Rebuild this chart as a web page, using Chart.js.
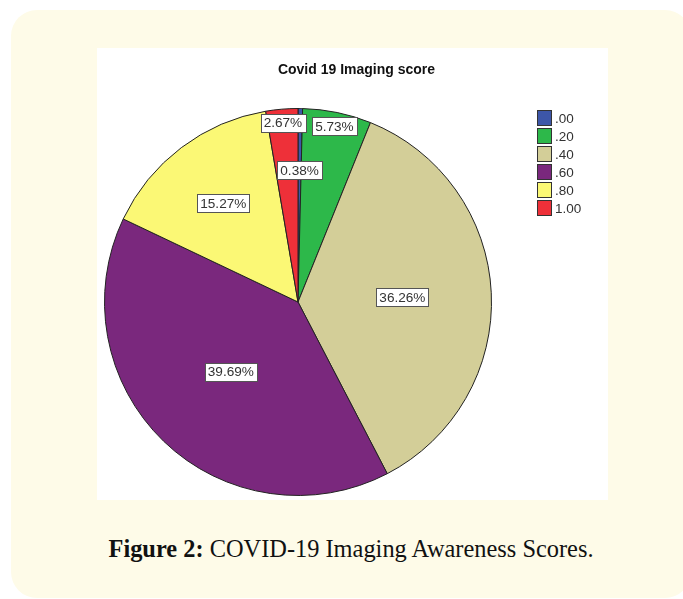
<!DOCTYPE html>
<html>
<head>
<meta charset="utf-8">
<script src="https://cdn.jsdelivr.net/npm/chart.js@4.4.0/dist/chart.umd.min.js"></script>
<style>
  html, body { margin: 0; padding: 0; background: #fff; }
  body { width: 683px; height: 599px; position: relative; overflow: hidden; }
  .card {
    position: absolute; left: 11px; top: 10px; width: 680px; height: 588px;
    background: #fefbe8; border-radius: 26px;
  }
  .plot {
    position: absolute; left: 97px; top: 48px; width: 511px; height: 452px; background: #fff;
  }
  .caption {
    position: absolute; left: 11px; width: 680px; top: 535px; text-align: center;
    font-family: "Liberation Serif", serif; font-size: 24.4px; color: #111;
  }
</style>
</head>
<body>
<div class="card"></div>
<div class="plot"><canvas id="myChart" width="511" height="452"></canvas></div>
<div class="caption"><b>Figure 2:</b> COVID-19 Imaging Awareness Scores.</div>
<script>
const scores=['.00', '.20', '.40', '.60', '.80', '1.00'];
const percents=[0.38, 5.73, 36.26, 39.69, 15.27, 2.67];
const title='Covid 19 Imaging score';

const colors=['#3d56a8', '#2db84a', '#d3ce98', '#7a287d', '#fbf875', '#ee3039'];
// how far out (fraction of radius) each % label sits, like the SPSS output
const labelRadius=[0.68, 0.93, 0.54, 0.5, 0.64, 0.93];

const spssLabels = {
  id: 'spssLabels',
  afterDraw(chart) {
    const ctx = chart.ctx;
    const meta = chart.getDatasetMeta(0);
    ctx.save();
    // title
    ctx.font = 'bold 14px "Liberation Sans", Arial, sans-serif';
    ctx.fillStyle = '#111';
    ctx.textAlign = 'center';
    ctx.textBaseline = 'middle';
    ctx.fillText(title, chart.width / 2 + 4, 22);

    // percentage boxes
    ctx.font = '13.6px "Liberation Sans", Arial, sans-serif';
    meta.data.forEach((arc, i) => {
      const p = arc.getProps(['x', 'y', 'startAngle', 'endAngle', 'outerRadius']);
      const a = (p.startAngle + p.endAngle) / 2;
      const r = p.outerRadius * labelRadius[i];
      const x = p.x + Math.cos(a) * r;
      const y = p.y + Math.sin(a) * r;
      const txt = percents[i].toFixed(2) + '%';
      const w = ctx.measureText(txt).width + 6;
      const h = 18;
      ctx.fillStyle = '#fff';
      ctx.fillRect(Math.round(x - w / 2) + 0.5, Math.round(y - h / 2) + 0.5, Math.round(w), h);
      ctx.strokeStyle = '#555';
      ctx.lineWidth = 1;
      ctx.strokeRect(Math.round(x - w / 2) + 0.5, Math.round(y - h / 2) + 0.5, Math.round(w), h);
      ctx.fillStyle = '#333';
      ctx.fillText(txt, x, y + 1);
    });

    // legend
    ctx.textAlign = 'left';
    ctx.font = '13.5px "Liberation Sans", Arial, sans-serif';
    scores.forEach((s, i) => {
      const y = 62 + i * 18;
      ctx.fillStyle = colors[i];
      ctx.fillRect(440.5, y + 0.5, 14, 15);
      ctx.strokeStyle = '#333';
      ctx.strokeRect(440.5, y + 0.5, 14, 15);
      ctx.fillStyle = '#333';
      ctx.fillText(s, 458, y + 9);
    });
    ctx.restore();
  }
};

const data = {
  labels: scores,
  datasets: [{
    data: percents,
    backgroundColor: colors,
    borderColor: '#222',
    borderWidth: 1
  }]
};

const config = {
  type: 'pie',
  data,
  options: {
    responsive: false,
    animation: false,
    layout: { padding: { left: 7, right: 116, top: 60, bottom: 4 } },
    plugins: {
      legend: { display: false },
      tooltip: { enabled: false }
    }
  },
  plugins: [spssLabels]
};

const myChart = new Chart(
  document.getElementById('myChart'),
  config
);
</script>
</body>
</html>
